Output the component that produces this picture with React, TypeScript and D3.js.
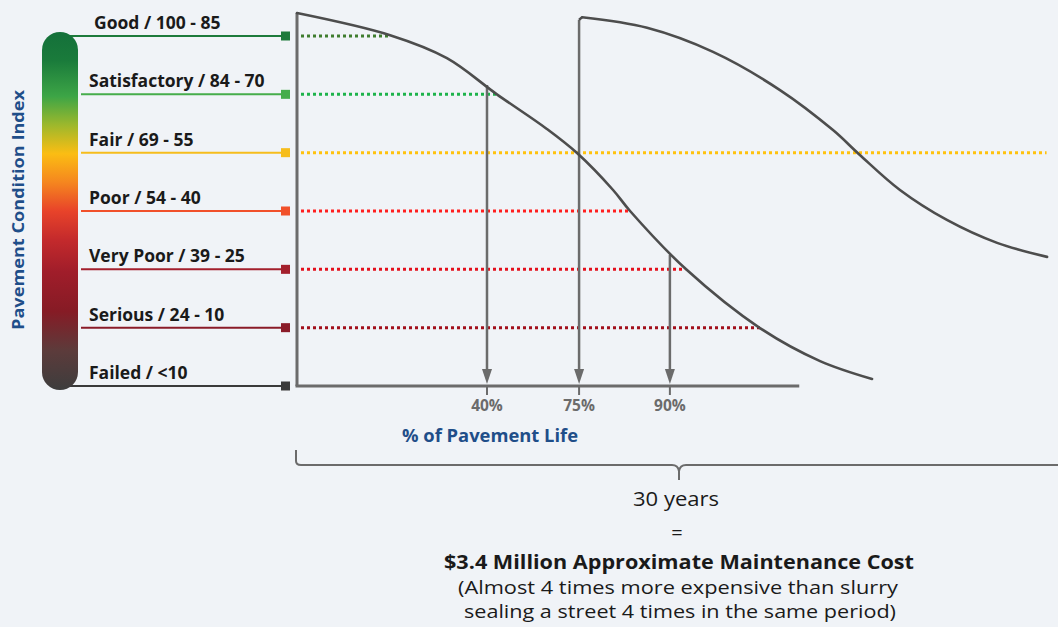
import React from "react";
import * as d3 from "d3";

// ---------- data ----------
const levelNames = [
  "Good / 100 - 85",
  "Satisfactory / 84 - 70",
  "Fair / 69 - 55",
  "Poor / 54 - 40",
  "Very Poor / 39 - 25",
  "Serious / 24 - 10",
  "Failed / <10",
];
const levelPCI = [85, 70, 55, 40, 25, 10, -5];
const levelColors = ["#1d7a3b", "#46ad4b", "#f6bd1c", "#f1502a", "#a31f2c", "#8a1b28", "#3a3a3a"];
const dotColors = ["#3f7d2e", "#1db34b", "#ffc20e", "#ff1f1f", "#e3101d", "#a10f1b", ""];
const dotEndYear = [3.67, 7.88, 29.55, 13.05, 15.3, 18.25, -1];

// first pavement life curve (years, PCI)
const curve1Year = [0, 3.67, 5.91, 7.88, 9.85, 11.04, 12.46, 13.13, 15.34, 18.25, 20.62, 22.67];
const curve1PCI = [90.9, 85.2, 79.3, 70.0, 61.1, 54.9, 45.4, 40.0, 25.0, 9.9, 1.4, -3.2];

// second curve after rehabilitation
const curve2Year = [11.24, 13.8, 16.4, 19.04, 21.13, 22.19, 23.77, 25.62, 27.6, 29.57];
const curve2PCI = [89.8, 87.1, 80.9, 71.1, 60.8, 54.4, 45.4, 37.7, 31.8, 28.2];

const tickLabels = ["40%", "75%", "90%"];
const tickYear = [7.49, 11.12, 14.7];
const arrowStartPCI = [72.4, 89.2, 28.7];

const axisEndYear = 19.8;
const totalYears = 30;

const gradientStops = [
  { o: 0, c: "#14703a" },
  { o: 0.08, c: "#1a7b3b" },
  { o: 0.18, c: "#3da546" },
  { o: 0.26, c: "#9db82c" },
  { o: 0.34, c: "#fbbd13" },
  { o: 0.42, c: "#f5861f" },
  { o: 0.5, c: "#e8432a" },
  { o: 0.58, c: "#c42a2c" },
  { o: 0.67, c: "#a01d2a" },
  { o: 0.78, c: "#861b25" },
  { o: 0.89, c: "#5c3b3b" },
  { o: 1, c: "#3d3d3d" },
];

// ---------- component ----------
export default function App() {
  const W = 1058;
  const H = 627;
  const x = d3.scaleLinear().domain([0, totalYears]).range([297, 1058]);
  const y = d3.scaleLinear().domain([-5, 85]).range([386, 36]);

  const line = d3
    .line<[number, number]>()
    .x((d) => x(d[0]))
    .y((d) => y(d[1]))
    .curve(d3.curveCatmullRom.alpha(0.5));

  const c1 = curve1Year.map((v, i) => [v, curve1PCI[i]] as [number, number]);
  const c2 = curve2Year.map((v, i) => [v, curve2PCI[i]] as [number, number]);

  const barX = 42;
  const barW = 36;
  const barTop = 32;
  const barBot = 390;
  const barCx = barX + barW / 2;

  const font = "'Open Sans', 'Noto Sans', sans-serif";
  const gray = "#6b6b6b";
  const curveColor = "#4d4d4d";
  const blue = "#1f4e89";

  const axisY = y(-5);
  const braceY = 465;
  const braceMid = 679;

  return (
    <svg
      width={W}
      height={H}
      viewBox={`0 0 ${W} ${H}`}
      style={{ position: "absolute", left: 0, top: 0, display: "block" }}
    >
      <defs>
        <linearGradient id="pciGrad" x1="0" y1="0" x2="0" y2="1">
          {gradientStops.map((s, i) => (
            <stop key={i} offset={s.o} stopColor={s.c} />
          ))}
        </linearGradient>
      </defs>
      <rect x={0} y={0} width={W} height={H} fill="#f0f3f7" />

      {/* Y title */}
      <text
        transform={`translate(24, 210) rotate(-90)`}
        textAnchor="middle"
        fontFamily={font}
        fontWeight={700}
        fontSize={16.5}
        fill={blue}
        textLength={240}
        lengthAdjust="spacingAndGlyphs"
      >
        Pavement Condition Index
      </text>

      {/* level lines */}
      {levelPCI.map((p, i) => {
        const ly = y(p);
        const endCap = i === 0 || i === levelPCI.length - 1;
        return (
          <g key={i}>
            <line
              x1={endCap ? barCx : barX + barW + 3}
              x2={283}
              y1={ly}
              y2={ly}
              stroke={levelColors[i]}
              strokeWidth={2}
            />
            <rect x={281} y={ly - 4.5} width={9} height={9} fill={levelColors[i]} />
            <text
              x={i === 0 ? 94 : 89}
              y={ly - 7}
              fontFamily={font}
              fontWeight={700}
              fontSize={17.5}
              fill="#1a1a1a"
            >
              {levelNames[i]}
            </text>
          </g>
        );
      })}

      {/* gradient bar */}
      <rect
        x={barX}
        y={barTop}
        width={barW}
        height={barBot - barTop}
        rx={barW / 2}
        ry={barW / 2}
        fill="url(#pciGrad)"
      />

      {/* dotted level lines */}
      {levelPCI.map((p, i) =>
        dotEndYear[i] > 0 ? (
          <line
            key={i}
            x1={x(0) + 4}
            x2={x(dotEndYear[i])}
            y1={y(p)}
            y2={y(p)}
            stroke={dotColors[i]}
            strokeWidth={3}
            strokeDasharray="3 3"
          />
        ) : null
      )}

      {/* axes */}
      <line x1={x(0)} x2={x(0)} y1={y(curve1PCI[0])} y2={axisY} stroke={gray} strokeWidth={3} />
      <line x1={x(0) - 1.5} x2={x(axisEndYear)} y1={axisY} y2={axisY} stroke={gray} strokeWidth={3} />

      {/* arrows + ticks */}
      {tickYear.map((t, i) => {
        const ax = x(t);
        return (
          <g key={i}>
            <line x1={ax} x2={ax} y1={y(arrowStartPCI[i])} y2={axisY - 10} stroke={gray} strokeWidth={2.5} />
            <path
              d={`M${ax - 5},${axisY - 17} L${ax + 5},${axisY - 17} L${ax},${axisY - 2} Z`}
              fill={gray}
            />
            <line x1={ax} x2={ax} y1={axisY} y2={axisY + 9} stroke={gray} strokeWidth={2} />
            <text
              x={ax}
              y={axisY + 25}
              textAnchor="middle"
              fontFamily={font}
              fontWeight={700}
              fontSize={15.5}
              fill={gray}
            >
              {tickLabels[i]}
            </text>
          </g>
        );
      })}

      {/* curves */}
      <path d={line(c1) || ""} fill="none" stroke={curveColor} strokeWidth={2.6} strokeLinecap="round" />
      <path d={line(c2) || ""} fill="none" stroke={curveColor} strokeWidth={2.6} strokeLinecap="round" />
      <line
        x1={x(curve2Year[0])}
        x2={x(tickYear[1])}
        y1={y(curve2PCI[0])}
        y2={y(arrowStartPCI[1])}
        stroke={curveColor}
        strokeWidth={2.5}
      />

      {/* x title */}
      <text
        x={490}
        y={442}
        textAnchor="middle"
        fontFamily={font}
        fontWeight={700}
        fontSize={18}
        fill={blue}
        textLength={176}
        lengthAdjust="spacingAndGlyphs"
      >
        % of Pavement Life
      </text>

      {/* brace */}
      <path
        d={`M${x(0) - 1},450 L${x(0) - 1},${braceY - 4} Q${x(0) - 1},${braceY} ${x(0) + 4},${braceY}
            L${braceMid - 7},${braceY} Q${braceMid - 1},${braceY} ${braceMid},${braceY + 6} L${braceMid},${braceY + 15}
            M${braceMid},${braceY + 6} Q${braceMid + 1},${braceY} ${braceMid + 7},${braceY} L${x(totalYears)},${braceY}`}
        fill="none"
        stroke={gray}
        strokeWidth={2}
      />

      {/* bottom text */}
      <g fontFamily={font} fill="#1a1a1a" textAnchor="middle">
        <text x={676} y={506} fontSize={20} textLength={86} lengthAdjust="spacingAndGlyphs">
          30 years
        </text>
        <text x={677} y={540} fontSize={20}>
          =
        </text>
        <text x={679} y={569} fontSize={20} fontWeight={700} textLength={470} lengthAdjust="spacingAndGlyphs">
          $3.4 Million Approximate Maintenance Cost
        </text>
        <text x={678} y={594} fontSize={18.5} textLength={440} lengthAdjust="spacingAndGlyphs">
          (Almost 4 times more expensive than slurry
        </text>
        <text x={680} y={618} fontSize={18.5} textLength={432} lengthAdjust="spacingAndGlyphs">
          sealing a street 4 times in the same period)
        </text>
      </g>
    </svg>
  );
}
